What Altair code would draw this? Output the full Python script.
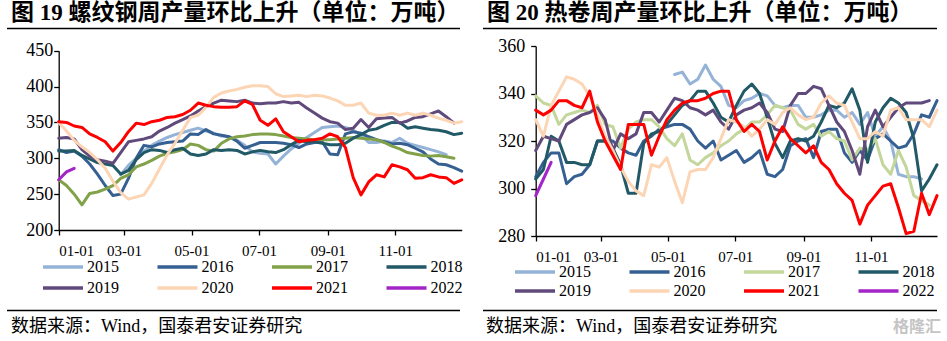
import altair as alt
import pandas as pd

YEARS = ["2015", "2016", "2017", "2018", "2019", "2020", "2021", "2022"]
ROW1 = YEARS[:4]
ROW2 = YEARS[4:]

# ---------------- Figure 19: rebar weekly output (10k t), weekly points from 01-01 ----------------
rebar_2015_start = 8
rebar_2015 = [277, 290, 300, 310, 318, 324, 329, 333, 336, 339, 342, 338, 335, 331, 330, 325, 318, 309,
              307, 306, 292, 303, 313, 321, 329, 336, 343, 344, 345, 343, 339, 333, 322, 322, 324, 322,
              328, 321, 318, 315, 312, 309, 305]
rebar_2016 = [312, 308, 310, 303, 292, 278, 262, 248, 250, 272, 300, 318, 316, 320, 322, 323, 324, 334,
              333, 340, 334, 332, 330, 324, 314, 318, 322, 322, 322, 321, 319, 315, 320, 322, 323, 306,
              305, 334, 337, 335, 330, 326, 323, 320, 321, 319, 314, 309, 299, 292, 291, 287, 282]
rebar_2017 = [270, 262, 250, 235, 251, 253, 257, 262, 272, 277, 288, 292, 297, 303, 307, 309, 312, 320,
              318, 312, 310, 321, 327, 330, 331, 333, 334, 334, 333, 331, 329, 328, 327, 326, 326, 326,
              327, 328, 329, 328, 327, 326, 322, 317, 313, 308, 306, 304, 303, 304, 302, 300]
rebar_2018 = [310, 310, 311, 304, 299, 294, 292, 290, 278, 283, 298, 308, 312, 311, 308, 312, 314, 306,
              304, 306, 312, 311, 312, 311, 306, 309, 311, 309, 308, 312, 319, 325, 323, 323, 321, 319,
              319, 321, 328, 333, 339, 341, 346, 350, 350, 342, 344, 342, 340, 339, 337, 333, 335]
rebar_2019 = [328, 329, 327, 312, 303, 298, 296, 293, 308, 323, 325, 327, 330, 338, 343, 349, 354, 359,
              366, 372, 377, 381, 380, 379, 381, 377, 376, 377, 377, 379, 377, 378, 370, 363, 356, 351,
              349, 340, 342, 354, 343, 355, 356, 357, 349, 352, 357, 358, 362, 366, 358, 349]
rebar_2020 = [350, 338, 325, 316, 308, 298, 286, 268, 252, 243, 246, 249, 265, 285, 305, 321, 339, 357,
              360, 371, 385, 391, 394, 396, 399, 401, 401, 400, 390, 386, 387, 388, 386, 388, 387, 384,
              380, 374, 374, 377, 363, 360, 360, 363, 360, 363, 360, 363, 360, 356, 353, 349, 351]
rebar_2021 = [351, 350, 345, 343, 334, 329, 323, 310, 322, 337, 349, 347, 351, 353, 357, 358, 361, 367,
              377, 374, 372, 371, 371, 372, 380, 375, 353, 346, 355, 337, 330, 323, 325, 326, 328, 334,
              330, 315, 273, 249, 267, 277, 274, 291, 288, 284, 272, 273, 277, 274, 273, 265, 270]
rebar_2022 = [270, 281, 286]

# ---------------- Figure 20: hot-rolled coil weekly output (10k t) ----------------
hrc_2015_start = 18
hrc_2015 = [348, 349, 344, 346, 352, 346, 343, 335, 334, 337, 338, 340, 339, 335, 334, 335, 335, 330,
            330, 331, 333, 333, 330, 332, 327, 332, 322, 326, 320, 306, 305, 305, 304]
hrc_2016 = [305, 311, 315, 315, 302, 305, 306, 310, 320, 320, 320, 317, 315, 314, 320, 322, 325, 326,
            327, 327, 325, 320, 317, 320, 312, 314, 316, 311, 313, 316, 306, 305, 308, 318, 320, 321,
            313, 324, 325, 325, 315, 311, 316, 312, 321, 323, 320, 317, 318, 323, 331, 330, 337]
hrc_2017 = [339, 336, 335, 327, 331, 332, 333, 332, 335, 327, 326, 317, 325, 328, 329, 329, 326, 321,
            318, 323, 312, 310, 313, 315, 318, 320, 323, 325, 328, 328, 331, 335, 334, 333, 327, 325,
            327, 322, 324, 321, 320, 312, 317, 316, 321, 310, 306, 316, 309, 297, 295, 293]
hrc_2018 = [304, 308, 322, 320, 311, 311, 310, 310, 320, 320, 317, 310, 298, 298, 319, 323, 324, 327,
            331, 335, 337, 341, 341, 336, 330, 328, 335, 341, 344, 340, 330, 319, 313, 320, 321, 320,
            322, 328, 335, 334, 336, 342, 333, 311, 328, 334, 338, 336, 332, 321, 299, 304, 310]
hrc_2019 = [316, 322, 321, 320, 327, 329, 331, 332, 334, 329, 316, 323, 321, 323, 332, 332, 328, 333,
            338, 337, 334, 333, 331, 333, 328, 325, 331, 333, 334, 336, 332, 325, 324, 335, 340, 340,
            343, 342, 335, 328, 324, 316, 306, 326, 333, 326, 330, 334, 336, 336, 336, 337]
hrc_2020 = [329, 322, 335, 341, 347, 346, 344, 339, 331, 322, 316, 309, 303, 299, 297, 310, 309, 313,
            303, 294, 307, 308, 308, 313, 321, 329, 328, 326, 322, 325, 329, 327, 332, 334, 331, 329,
            330, 336, 339, 336, 335, 328, 321, 321, 324, 322, 333, 334, 329, 329, 329, 326, 333]
hrc_2021 = [333, 331, 333, 337, 337, 335, 334, 341, 328, 320, 314, 308, 327, 327, 327, 314, 322, 329,
            333, 336, 337, 337, 338, 340, 341, 341, 329, 324, 327, 324, 312, 320, 326, 321, 318, 315,
            318, 311, 308, 302, 298, 295, 285, 293, 297, 301, 302, 292, 281, 282, 298, 289, 297]
hrc_2022 = [297, 304, 311]

LEFT_COLORS = ["#95B3D7", "#376092", "#82A24A", "#215967", "#604A7B", "#FCD5B5", "#FF0000", "#A325C7"]
RIGHT_COLORS = ["#95B3D7", "#376092", "#C3D69B", "#215967", "#604A7B", "#FCD5B5", "#FF0000", "#A325C7"]

LEFT_TITLE = "图 19  螺纹钢周产量环比上升（单位：万吨）"
RIGHT_TITLE = "图 20  热卷周产量环比上升（单位：万吨）"
SOURCE = "数据来源：Wind，国泰君安证券研究"
WATERMARK = "格隆汇"

LEFT_Y_TICKS = [200, 250, 300, 350, 400, 450]
RIGHT_Y_TICKS = [280, 300, 320, 340, 360]
TICK_MONTHS = [1, 3, 5, 7, 9, 11]

SERIF = "Liberation Serif"
CJK = "'Liberation Serif', 'Noto Sans CJK SC'"


def build(series, starts):
    rows = []
    base = pd.Timestamp("2021-01-01")
    for yr, vals in series.items():
        s = starts.get(yr, 0)
        for i, v in enumerate(vals):
            d = base + pd.Timedelta(days=7 * (s + i))
            rows.append({"date": d.strftime("%Y-%m-%d"), "value": v, "year": yr})
    return pd.DataFrame(rows)


left_df = build(dict(zip(YEARS, [rebar_2015, rebar_2016, rebar_2017, rebar_2018,
                                 rebar_2019, rebar_2020, rebar_2021, rebar_2022])),
                {"2015": rebar_2015_start})
right_df = build(dict(zip(YEARS, [hrc_2015, hrc_2016, hrc_2017, hrc_2018,
                                  hrc_2019, hrc_2020, hrc_2021, hrc_2022])),
                 {"2015": hrc_2015_start})


def dt(m, d):
    return alt.DateTime(year=2021, month=m, date=d, utc=True)


def lines(df, years, colors, xrange, yrange, ydomain, yticks, xoff, yoff, ypad, lx, ly,
          show_axes):
    sub = df[df["year"].isin(years)]
    if show_axes:
        xaxis = alt.Axis(orient="bottom", offset=xoff, values=[dt(m, 1) for m in TICK_MONTHS],
                         format="%m-%d", grid=False, domainColor="black", domainWidth=1.3,
                         tickColor="black", tickWidth=1.3, tickSize=5, labelPadding=8,
                         labelFont=SERIF, labelFontSize=15, labelColor="black")
        yaxis = alt.Axis(orient="left", offset=yoff, values=yticks, grid=False,
                         domainColor="black", domainWidth=1.3, tickColor="black",
                         tickWidth=1.3, tickSize=5, labelPadding=ypad, labelFont=SERIF,
                         labelFontSize=18, labelColor="black")
    else:
        xaxis = None
        yaxis = None
    return alt.Chart(sub).mark_line(strokeWidth=3, strokeJoin="round", strokeCap="round").encode(
        x=alt.X("date:T", title=None,
                scale=alt.Scale(type="utc", domain=[dt(1, 1), dt(12, 31)], range=xrange),
                axis=xaxis),
        y=alt.Y("value:Q", title=None,
                scale=alt.Scale(domain=ydomain, range=yrange, nice=False, zero=False),
                axis=yaxis),
        color=alt.Color("year:N", title=None,
                        scale=alt.Scale(domain=years, range=colors),
                        legend=alt.Legend(orient="none", legendX=lx, legendY=ly,
                                          direction="horizontal",
                                          symbolType="stroke", symbolSize=1600,
                                          symbolStrokeWidth=3.5, labelFont=SERIF,
                                          labelFontSize=16, labelColor="black", labelOffset=2,
                                          columnPadding=31.5, padding=0)),
        order=alt.Order("year:N"),
    )


LX, RX = [58.7, 461.7], [535.7, 937]
LY, RY = [230, 50.7], [236, 46]

layers = [
    lines(left_df, ROW1, LEFT_COLORS[:4], LX, LY, [200, 450], LEFT_Y_TICKS, -111, -58.7, 1,
          41, 245, True),
    lines(left_df, ROW2, LEFT_COLORS[4:], LX, LY, [200, 450], LEFT_Y_TICKS, -111, -58.7, 1,
          41, 266, False),
    lines(right_df, ROW1, RIGHT_COLORS[:4], RX, RY, [280, 360], RIGHT_Y_TICKS, -105, -535.7, 6,
          513, 250, True),
    lines(right_df, ROW2, RIGHT_COLORS[4:], RX, RY, [280, 360], RIGHT_Y_TICKS, -105, -535.7, 6,
          513, 269, False),
]


def text_layer(txt, x, y, size, weight="normal", color="black", font=CJK):
    return alt.Chart(pd.DataFrame({"t": [txt]})).mark_text(
        align="left", baseline="middle", fontSize=size, fontWeight=weight, color=color, font=font
    ).encode(x=alt.value(x), y=alt.value(y), text="t:N")


def rule_layer(x1, x2, y):
    return alt.Chart(pd.DataFrame({"k": [0]})).mark_rule(color="black", strokeWidth=1.3).encode(
        x=alt.value(x1), x2=alt.value(x2), y=alt.value(y))


deco = [
    text_layer(LEFT_TITLE, 11, 13, 23, "bold"),
    text_layer(RIGHT_TITLE, 487, 13, 23, "bold"),
    rule_layer(7, 460, 28.5),
    rule_layer(483, 937, 28.5),
    rule_layer(7, 460, 310.5),
    rule_layer(483, 937, 310.5),
    text_layer(SOURCE, 11, 327, 18),
    text_layer(SOURCE, 486, 327, 18),
    text_layer(WATERMARK, 893, 327, 16, "bold", "#c4c4c4", "'Noto Sans CJK SC'"),
]

chart = alt.layer(*layers, *deco).resolve_scale(
    x="independent", y="independent", color="independent"
).properties(
    width=947, height=341, autosize=alt.AutoSizeParams(type="none"), padding=0,
    background="white"
).configure_view(strokeOpacity=0)

chart.save("out.html", embed_options={"renderer": "svg", "actions": False})
